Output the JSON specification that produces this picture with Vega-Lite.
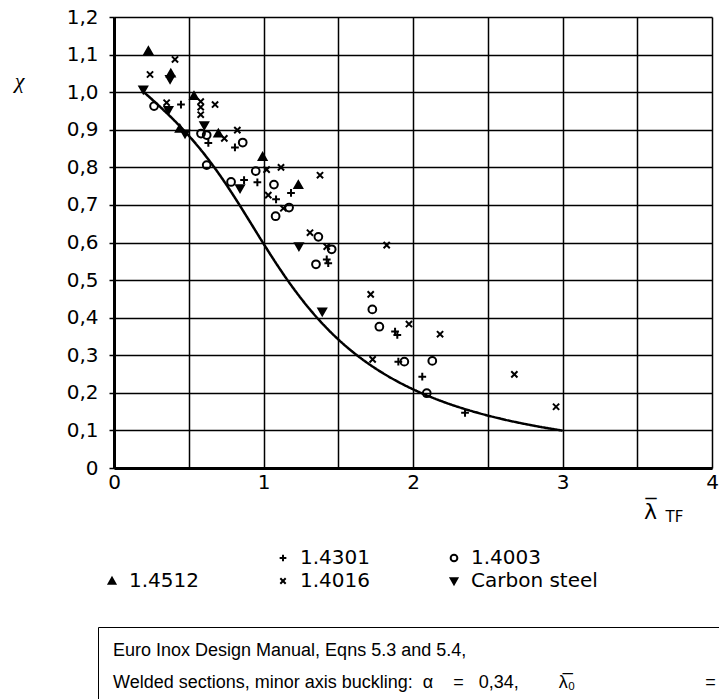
{
  "$schema": "https://vega.github.io/schema/vega-lite/v6.json",
  "width": 598,
  "height": 451,
  "autosize": {"type": "none"},
  "padding": {"left": 114, "top": 17, "right": 7, "bottom": 231},
  "background": "white",
  "config": {
    "font": "DejaVu Sans",
    "view": {"stroke": null},
    "axis": {"labelColor": "black", "titleColor": "black", "labelFont": "DejaVu Sans"}
  },
  "datasets": {
    "curve": [
      {"lambda": 0.2, "chi": 1.0, "k": "c"},
      {"lambda": 0.3, "chi": 0.9641, "k": "c"},
      {"lambda": 0.4, "chi": 0.9261, "k": "c"},
      {"lambda": 0.5, "chi": 0.8842, "k": "c"},
      {"lambda": 0.6, "chi": 0.8371, "k": "c"},
      {"lambda": 0.7, "chi": 0.7837, "k": "c"},
      {"lambda": 0.8, "chi": 0.7245, "k": "c"},
      {"lambda": 0.9, "chi": 0.6612, "k": "c"},
      {"lambda": 1.0, "chi": 0.597, "k": "c"},
      {"lambda": 1.1, "chi": 0.5352, "k": "c"},
      {"lambda": 1.2, "chi": 0.4781, "k": "c"},
      {"lambda": 1.3, "chi": 0.4269, "k": "c"},
      {"lambda": 1.4, "chi": 0.3817, "k": "c"},
      {"lambda": 1.5, "chi": 0.3422, "k": "c"},
      {"lambda": 1.6, "chi": 0.3079, "k": "c"},
      {"lambda": 1.7, "chi": 0.2781, "k": "c"},
      {"lambda": 1.8, "chi": 0.2521, "k": "c"},
      {"lambda": 1.9, "chi": 0.2294, "k": "c"},
      {"lambda": 2.0, "chi": 0.2095, "k": "c"},
      {"lambda": 2.1, "chi": 0.192, "k": "c"},
      {"lambda": 2.2, "chi": 0.1765, "k": "c"},
      {"lambda": 2.4, "chi": 0.1506, "k": "c"},
      {"lambda": 2.6, "chi": 0.1299, "k": "c"},
      {"lambda": 2.8, "chi": 0.1132, "k": "c"},
      {"lambda": 3.0, "chi": 0.0994, "k": "c"}
    ],
    "pts": [
      {"series": "1.4512", "lambda": 0.23, "chi": 1.11},
      {"series": "1.4512", "lambda": 0.38, "chi": 1.05},
      {"series": "1.4512", "lambda": 0.535, "chi": 0.99},
      {"series": "1.4512", "lambda": 0.44, "chi": 0.903},
      {"series": "1.4512", "lambda": 0.698, "chi": 0.89},
      {"series": "1.4512", "lambda": 0.994, "chi": 0.828},
      {"series": "1.4512", "lambda": 1.233, "chi": 0.753},
      {"series": "1.4016", "lambda": 0.408, "chi": 1.087},
      {"series": "1.4016", "lambda": 0.241, "chi": 1.047},
      {"series": "1.4016", "lambda": 0.352, "chi": 0.972},
      {"series": "1.4016", "lambda": 0.58, "chi": 0.975},
      {"series": "1.4016", "lambda": 0.58, "chi": 0.96},
      {"series": "1.4016", "lambda": 0.58, "chi": 0.94},
      {"series": "1.4016", "lambda": 0.676, "chi": 0.967},
      {"series": "1.4016", "lambda": 0.738, "chi": 0.877},
      {"series": "1.4016", "lambda": 0.825, "chi": 0.899},
      {"series": "1.4016", "lambda": 1.021, "chi": 0.794},
      {"series": "1.4016", "lambda": 1.117, "chi": 0.8},
      {"series": "1.4016", "lambda": 1.378, "chi": 0.779},
      {"series": "1.4016", "lambda": 1.032, "chi": 0.726},
      {"series": "1.4016", "lambda": 1.133, "chi": 0.691},
      {"series": "1.4016", "lambda": 1.311, "chi": 0.626},
      {"series": "1.4016", "lambda": 1.423, "chi": 0.589},
      {"series": "1.4016", "lambda": 1.824, "chi": 0.593},
      {"series": "1.4016", "lambda": 1.717, "chi": 0.462},
      {"series": "1.4016", "lambda": 1.973, "chi": 0.383},
      {"series": "1.4016", "lambda": 2.181, "chi": 0.356},
      {"series": "1.4016", "lambda": 1.73, "chi": 0.289},
      {"series": "1.4016", "lambda": 2.678, "chi": 0.249},
      {"series": "1.4016", "lambda": 2.957, "chi": 0.163},
      {"series": "Carbon steel", "lambda": 0.375, "chi": 1.035},
      {"series": "Carbon steel", "lambda": 0.196, "chi": 1.007},
      {"series": "Carbon steel", "lambda": 0.364, "chi": 0.952},
      {"series": "Carbon steel", "lambda": 0.475, "chi": 0.89},
      {"series": "Carbon steel", "lambda": 0.604, "chi": 0.912},
      {"series": "Carbon steel", "lambda": 0.843, "chi": 0.744},
      {"series": "Carbon steel", "lambda": 1.237, "chi": 0.59},
      {"series": "Carbon steel", "lambda": 1.393, "chi": 0.416},
      {"series": "1.4003", "lambda": 0.268, "chi": 0.963},
      {"series": "1.4003", "lambda": 0.582, "chi": 0.89},
      {"series": "1.4003", "lambda": 0.62, "chi": 0.886},
      {"series": "1.4003", "lambda": 0.861, "chi": 0.866},
      {"series": "1.4003", "lambda": 0.62, "chi": 0.806},
      {"series": "1.4003", "lambda": 0.948, "chi": 0.79},
      {"series": "1.4003", "lambda": 0.783, "chi": 0.761},
      {"series": "1.4003", "lambda": 1.07, "chi": 0.754},
      {"series": "1.4003", "lambda": 1.171, "chi": 0.693},
      {"series": "1.4003", "lambda": 1.081, "chi": 0.67},
      {"series": "1.4003", "lambda": 1.367, "chi": 0.615},
      {"series": "1.4003", "lambda": 1.456, "chi": 0.582},
      {"series": "1.4003", "lambda": 1.351, "chi": 0.542},
      {"series": "1.4003", "lambda": 1.728, "chi": 0.422},
      {"series": "1.4003", "lambda": 1.775, "chi": 0.376},
      {"series": "1.4003", "lambda": 1.942, "chi": 0.283},
      {"series": "1.4003", "lambda": 2.129, "chi": 0.285},
      {"series": "1.4003", "lambda": 2.092, "chi": 0.199},
      {"series": "1.4301", "lambda": 0.448, "chi": 0.967},
      {"series": "1.4301", "lambda": 0.631, "chi": 0.865},
      {"series": "1.4301", "lambda": 0.809, "chi": 0.853},
      {"series": "1.4301", "lambda": 0.87, "chi": 0.766},
      {"series": "1.4301", "lambda": 0.959, "chi": 0.76},
      {"series": "1.4301", "lambda": 1.184, "chi": 0.732},
      {"series": "1.4301", "lambda": 1.084, "chi": 0.715},
      {"series": "1.4301", "lambda": 1.423, "chi": 0.555},
      {"series": "1.4301", "lambda": 1.433, "chi": 0.545},
      {"series": "1.4301", "lambda": 1.88, "chi": 0.363},
      {"series": "1.4301", "lambda": 1.895, "chi": 0.354},
      {"series": "1.4301", "lambda": 1.902, "chi": 0.283},
      {"series": "1.4301", "lambda": 2.062, "chi": 0.243},
      {"series": "1.4301", "lambda": 2.348, "chi": 0.147}
    ]
  },
  "layer": [
    {
      "data": {"name": "curve"},
      "mark": {"type": "line", "color": "black", "strokeWidth": 2.5, "interpolate": "monotone"},
      "encoding": {
        "x": {
          "field": "lambda", "type": "quantitative",
          "scale": {"domain": [0, 4], "nice": false, "zero": false},
          "axis": {
            "values": [0, 0.5, 1, 1.5, 2, 2.5, 3, 3.5, 4],
            "tickCount": 20,
            "labelExpr": "datum.value % 1 === 0 ? format(datum.value, 'd') : ''",
            "labelOverlap": false,
            "labelFlush": false,
            "labelFontSize": 20,
            "labelPadding": 4,
            "ticks": false,
            "grid": true, "gridColor": "black", "gridWidth": 1.5, "gridOpacity": 1,
            "domainColor": "black", "domainWidth": 3,
            "title": "λ̅",
            "titleFont": "DejaVu Sans", "titleFontSize": 22, "titleFontWeight": "normal",
            "titleX": 536, "titleY": 50, "titleAlign": "center", "titleBaseline": "alphabetic"
          }
        },
        "y": {
          "field": "chi", "type": "quantitative",
          "scale": {"domain": [0, 1.2], "nice": false},
          "axis": {
            "values": [0, 0.1, 0.2, 0.3, 0.4, 0.5, 0.6, 0.7, 0.8, 0.9, 1.0, 1.1, 1.2],
            "tickCount": 20,
            "labelExpr": "datum.value === 0 ? '0' : replace(format(datum.value, '.1f'), '.', ',')",
            "labelOverlap": false,
            "labelFlush": false,
            "labelFontSize": 20,
            "labelPadding": 11,
            "ticks": true, "tickSize": 5, "tickColor": "black", "tickWidth": 1.5,
            "grid": true, "gridColor": "black", "gridWidth": 1.5, "gridOpacity": 1,
            "domainColor": "black", "domainWidth": 3,
            "title": "χ",
            "titleFont": "Liberation Serif", "titleFontStyle": "italic", "titleFontSize": 22, "titleFontWeight": "normal",
            "titleAngle": 0, "titleX": -95, "titleY": 63, "titleAlign": "center", "titleBaseline": "middle"
          }
        },
        "strokeDash": {
          "field": "k", "type": "nominal",
          "scale": {"range": [[1, 0]]},
          "legend": {
            "orient": "none", "legendX": -16, "legendY": 610,
            "title": ["Euro Inox Design Manual, Eqns 5.3 and 5.4,", "Welded sections, minor axis buckling: \u00a0α\u00a0\u00a0\u00a0\u00a0=\u00a0\u00a0\u00a00,34,\u00a0\u00a0\u00a0\u00a0\u00a0\u00a0\u00a0\u00a0λ̅₀\u00a0\u00a0\u00a0\u00a0\u00a0\u00a0\u00a0\u00a0\u00a0\u00a0\u00a0\u00a0\u00a0\u00a0\u00a0\u00a0\u00a0\u00a0\u00a0\u00a0\u00a0\u00a0\u00a0\u00a0\u00a0\u00a0="],
            "titleFont": "Liberation Sans",
            "titleFontSize": 18, "titleFontWeight": "normal", "titleColor": "black",
            "titleLineHeight": 32, "titleLimit": 3000, "titleBaseline": "top",
            "strokeColor": "black", "padding": 15,
            "symbolOpacity": 0, "labelOpacity": 0, "labelExpr": "''",
            "encode": {"legend": {"strokeWidth": {"value": 2}}, "title": {"dy": {"value": -7}}}
          }
        }
      }
    },
    {
      "data": {"name": "pts"},
      "mark": {"type": "point", "filled": false, "stroke": "black", "strokeWidth": 2, "size": 60, "opacity": 1},
      "encoding": {
        "x": {
          "field": "lambda", "type": "quantitative",
          "axis": {
            "orient": "bottom", "domain": false, "ticks": false, "labels": false, "grid": false,
            "title": "TF", "titleFont": "DejaVu Sans", "titleFontSize": 15, "titleFontWeight": "normal",
            "titleX": 551, "titleY": 53, "titleAlign": "left", "titleBaseline": "alphabetic"
          }
        },
        "y": {
          "field": "chi", "type": "quantitative",
          "axis": {
            "values": [0, 0.1, 0.2, 0.3, 0.4, 0.5, 0.6, 0.7, 0.8, 0.9, 1.0, 1.1, 1.2],
            "tickCount": 20,
            "labelExpr": "datum.value === 0 ? '0' : replace(format(datum.value, '.1f'), '.', ',')",
            "labelOverlap": false,
            "labelFlush": false,
            "labelFontSize": 20,
            "labelPadding": 11,
            "ticks": true, "tickSize": 5, "tickColor": "black", "tickWidth": 1.5,
            "grid": true, "gridColor": "black", "gridWidth": 1.5, "gridOpacity": 1,
            "domainColor": "black", "domainWidth": 3,
            "title": "χ",
            "titleFont": "Liberation Serif", "titleFontStyle": "italic", "titleFontSize": 22, "titleFontWeight": "normal",
            "titleAngle": 0, "titleX": -95, "titleY": 63, "titleAlign": "center", "titleBaseline": "middle"
          }
        },
        "shape": {
          "field": "series", "type": "nominal",
          "scale": {
            "domain": [" ", "1.4301", "1.4003", "1.4512", "1.4016", "Carbon steel"],
            "range": [
              "M0,0",
              "M-1,0L1,0M0,-1L0,1",
              "circle",
              "M-1,0.8L0,-0.95L1,0.8Z M-0.55,0.4L0.55,0.4 M0,-0.45L0,0.8 M-0.3,0.1L0.3,0.1",
              "M-0.8,-0.8L0.8,0.8M-0.8,0.8L0.8,-0.8",
              "M-1,-0.8L0,0.95L1,-0.8Z M-0.55,-0.4L0.55,-0.4 M0,0.45L0,-0.8 M-0.3,-0.1L0.3,-0.1"
            ]
          },
          "legend": {
            "title": null, "orient": "none", "legendX": -12, "legendY": 531,
            "direction": "horizontal", "columns": 3, "columnPadding": 74, "rowPadding": 3,
            "symbolSize": 45, "symbolStrokeWidth": 2, "symbolStrokeColor": "black", "symbolFillColor": "transparent",
            "labelFont": "DejaVu Sans", "labelFontSize": 20, "labelColor": "black", "labelOffset": 7, "labelLimit": 300
          }
        }
      }
    }
  ],
  "resolve": {"axis": {"x": "independent"}}
}
